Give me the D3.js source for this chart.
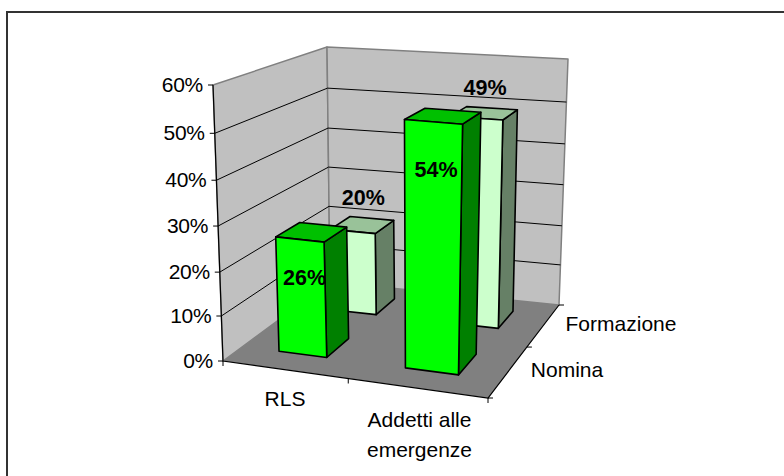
<!DOCTYPE html>
<html><head><meta charset="utf-8">
<script src="https://cdn.jsdelivr.net/npm/d3@7/dist/d3.min.js"></script>
<style>html,body{margin:0;padding:0;background:#fff}svg{display:block}text{font-family:"Liberation Sans",Arial,sans-serif;fill:#000}</style>
</head><body><svg id="c" width="784" height="476"></svg>
<script>
const categories = ["RLS", "Addetti alle emergenze"];
const seriesNames = ["Formazione", "Nomina"];
const formazione = [20, 49];
const nomina = [26, 54];
const valueTicks = [0, 10, 20, 30, 40, 50, 60];

const floorQuad = [[223,361],[488,398],[559,305],[330,282]]; // front-left, front-right, back-right, back-left
const topQuad = [[213,85],[498,108],[568,59],[327,47]];

function quad(q){
  const [[x0,y0],[x1,y1],[x2,y2],[x3,y3]] = q;
  const dx1=x1-x2, dx2=x3-x2, sx=x0-x1+x2-x3, dy1=y1-y2, dy2=y3-y2, sy=y0-y1+y2-y3;
  const d=dx1*dy2-dx2*dy1, g=(sx*dy2-dx2*sy)/d, h=(dx1*sy-sx*dy1)/d;
  const a=x1-x0+g*x1, b=x3-x0+h*x3, e=y1-y0+g*y1, f=y3-y0+h*y3;
  return (u,v)=>{const w=g*u+h*v+1; return [(a*u+b*v+x0)/w,(e*u+f*v+y0)/w];};
}
const pf=quad(floorQuad), pt=quad(topQuad);
const heightScale=d3.scaleLinear().domain(valueTicks).range([0,.163,.322,.489,.655,.825,1]);
const P=(u,v,val)=>{const a=pf(u,v),b=pt(u,v),t=heightScale(val);return [a[0]+(b[0]-a[0])*t,a[1]+(b[1]-a[1])*t];};

const uScale=d3.scaleBand().domain(categories).range([0.001,1.001]).paddingInner(0.61).paddingOuter(0.305);
const vScale=d3.scaleBand().domain(["Nomina","Formazione"]).range([0.015,1.015]).paddingInner(0.58).paddingOuter(0.29);

const svg=d3.select("#c");
const line=d3.line();
const poly=(pts,fill,stroke,sw,parent)=>(parent||svg).append("path").attr("d",line(pts)+"Z").attr("fill",fill).attr("stroke",stroke).attr("stroke-width",sw).attr("stroke-linejoin","round");

svg.append("path").attr("d","M7,476V12H784").attr("fill","none").attr("stroke","#333").attr("stroke-width",2);

poly([P(0,0,0),P(0,1,0),P(0,1,60),P(0,0,60)],"#c0c0c0","#808080",1.5);
poly([P(0,1,0),P(1,1,0),P(1,1,60),P(0,1,60)],"#c0c0c0","#808080",1.5);
poly([P(0,0,0),P(1,0,0),P(1,1,0),P(0,1,0)],"#808080","none",0);

valueTicks.filter(d=>d>0&&d<60).forEach(d=>{
  svg.append("path").attr("d",line([P(0,0,d),P(0,1,d),P(1,1,d)])).attr("fill","none").attr("stroke","#000").attr("stroke-width",1);
});
svg.append("path").attr("d",line([P(0,0,60),P(0,0,0),P(1,0,0),P(1,1,0)])).attr("fill","none").attr("stroke","#000").attr("stroke-width",1.2);

valueTicks.forEach(d=>{
  const p=P(0,0,d);
  svg.append("path").attr("d",line([p,[p[0]-5,p[1]]])).attr("stroke","#000").attr("stroke-width",1).attr("fill","none");
  svg.append("text").attr("x",p[0]-10).attr("y",p[1]+7).attr("text-anchor","end").attr("font-size",21).attr("letter-spacing","-0.3").text(d+"%");
});
[0,0.5,1].forEach(u=>{const p=P(u,0,0);svg.append("path").attr("d",line([p,[p[0],p[1]+5]])).attr("stroke","#000").attr("fill","none");});
[0,0.5,1].forEach(v=>{const p=P(1,v,0);svg.append("path").attr("d",line([p,[p[0]+5,p[1]]])).attr("stroke","#000").attr("fill","none");});

function bar(cat,ser,val,c,dx,dy){
  const u0=uScale(cat),u1=u0+uScale.bandwidth(),v0=vScale(ser),v1=v0+vScale.bandwidth();
  const g=svg.append("g");
  poly([P(u1,v0,0),P(u1,v1,0),P(u1,v1,val),P(u1,v0,val)],c[2],"#000",1.6,g);
  poly([P(u0,v0,val),P(u1,v0,val),P(u1,v1,val),P(u0,v1,val)],c[1],"#000",1.6,g);
  poly([P(u0,v0,0),P(u1,v0,0),P(u1,v0,val),P(u0,v0,val)],c[0],"#000",1.6,g);
  return ()=>{const p=P((u0+u1)/2,(v0+v1)/2,val);
    svg.append("text").attr("x",p[0]+dx).attr("y",p[1]+dy(val)).attr("text-anchor","middle").attr("font-size",21.5).attr("font-weight","bold").text(val+"%");};
}
const labelers=[];
const backC=["#ccffcc","#99c299","#668066"], frontC=["#00ff00","#00c000","#008000"];
categories.forEach((c,i)=>labelers.push(bar(c,"Formazione",formazione[i],backC,1,v=>-21.4+v*.07)));
categories.forEach((c,i)=>labelers.push(bar(c,"Nomina",nomina[i],frontC,-7,v=>45+v*.3)));
labelers.forEach(f=>f());

const catLabel=(t,x,y)=>svg.append("text").attr("x",x).attr("y",y).attr("text-anchor","middle").attr("font-size",21).text(t);
catLabel("RLS",285,406);
catLabel("Addetti alle",419.5,427);
catLabel("emergenze",419.5,457);
catLabel("Nomina",567,377);
catLabel("Formazione",621,331);
</script></body></html>
